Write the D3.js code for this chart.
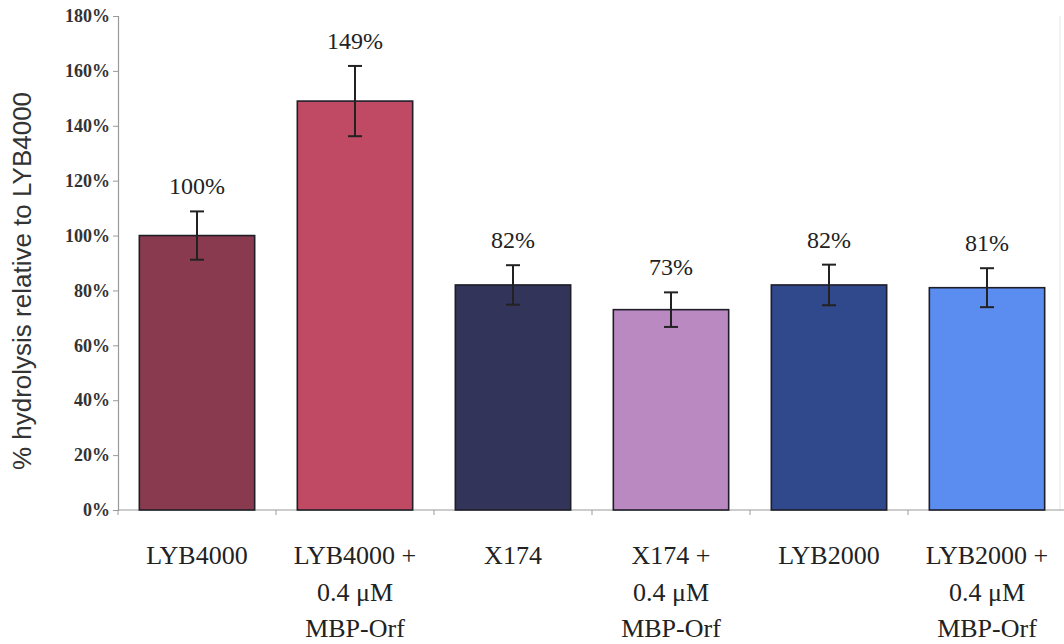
<!DOCTYPE html>
<html>
<head>
<meta charset="utf-8">
<script src="https://cdn.jsdelivr.net/npm/d3@7"></script>
<style>
  html, body { margin: 0; padding: 0; background: #fff; }
  svg { display: block; }
</style>
</head>
<body>
<script>
// ---- data ----
const categories = ["LYB4000", "LYB4000 + 0.4 μM MBP-Orf", "X174", "X174 + 0.4 μM MBP-Orf", "LYB2000", "LYB2000 + 0.4 μM MBP-Orf"];
const categoryLines = [
  ["LYB4000"],
  ["LYB4000 +", "0.4 μM", "MBP-Orf"],
  ["X174"],
  ["X174 +", "0.4 μM", "MBP-Orf"],
  ["LYB2000"],
  ["LYB2000 +", "0.4 μM", "MBP-Orf"]
];
const values = [1.00, 1.49, 0.82, 0.73, 0.82, 0.81];
const errors = [0.088, 0.128, 0.072, 0.063, 0.074, 0.071];
const valueLabels = ["100%", "149%", "82%", "73%", "82%", "81%"];
const barColors = ["#8a3a4e", "#c04a63", "#33345a", "#bb89c2", "#30488c", "#5b8df0"];
const yTicks = [0, 0.2, 0.4, 0.6, 0.8, 1.0, 1.2, 1.4, 1.6, 1.8];
const yTitle = "% hydrolysis relative to LYB4000";

// ---- layout ----
const W = 1064, H = 644;
const svg = d3.select("body").append("svg").attr("width", W).attr("height", H);

const x = d3.scaleBand().domain(categories).range([118, 1066]).paddingInner(0.27).paddingOuter(0.135);
const y = d3.scaleLinear().domain([0, 1.8]).range([510, 16]);

// faint right border
svg.append("line").attr("x1", 1060).attr("x2", 1060).attr("y1", 16).attr("y2", 510)
  .attr("stroke", "#e6e6e6").attr("stroke-width", 1);

// y axis
const yAxis = svg.append("g").attr("transform", "translate(118,0)")
  .call(d3.axisLeft(y).tickValues(yTicks).tickFormat(d3.format(".0%")).tickSize(5).tickPadding(3));
yAxis.select(".domain").attr("stroke", "#999").attr("stroke-width", 1.2);
yAxis.selectAll(".tick line").attr("stroke", "#999");
yAxis.selectAll(".tick text")
  .attr("font-family", "'Liberation Serif', 'Times New Roman', serif")
  .attr("font-size", 18).attr("font-weight", "bold").attr("fill", "#333");

// x axis (ticks at category boundaries)
const boundaries = [118].concat(categories.map(c => x(c) + x.bandwidth() + x.step() * x.paddingInner() / 2));
svg.append("line").attr("x1", 118).attr("x2", 1066).attr("y1", y(0)).attr("y2", y(0))
  .attr("stroke", "#999").attr("stroke-width", 1.2);
svg.append("g").selectAll("line").data(boundaries).join("line")
  .attr("x1", d => d).attr("x2", d => d)
  .attr("y1", y(0)).attr("y2", y(0) + 5)
  .attr("stroke", "#999");

// bars
svg.append("g").selectAll("rect").data(values).join("rect")
  .attr("x", (d, i) => x(categories[i]))
  .attr("y", d => y(d))
  .attr("width", x.bandwidth())
  .attr("height", d => y(0) - y(d))
  .attr("fill", (d, i) => barColors[i])
  .attr("stroke", "#1e1e28").attr("stroke-width", 1.6);

// error bars
const eg = svg.append("g").attr("stroke", "#222").attr("stroke-width", 2);
values.forEach((v, i) => {
  const cx = x(categories[i]) + x.bandwidth() / 2;
  const t = y(v + errors[i]), b = y(v - errors[i]);
  eg.append("line").attr("x1", cx).attr("x2", cx).attr("y1", t).attr("y2", b);
  eg.append("line").attr("x1", cx - 7).attr("x2", cx + 7).attr("y1", t).attr("y2", t);
  eg.append("line").attr("x1", cx - 7).attr("x2", cx + 7).attr("y1", b).attr("y2", b);
});

// value labels
svg.append("g").selectAll("text").data(values).join("text")
  .attr("x", (d, i) => x(categories[i]) + x.bandwidth() / 2)
  .attr("y", (d, i) => y(d + errors[i]) - 17)
  .attr("text-anchor", "middle")
  .attr("font-family", "'Liberation Serif', 'Times New Roman', serif")
  .attr("font-size", 24).attr("fill", "#222")
  .text((d, i) => valueLabels[i]);

// x category labels
const xl = svg.append("g").selectAll("text").data(categories).join("text")
  .attr("text-anchor", "middle")
  .attr("font-family", "'Liberation Serif', 'Times New Roman', serif")
  .attr("font-size", 26).attr("fill", "#222");
xl.each(function (c, i) {
  const cx = x(c) + x.bandwidth() / 2;
  d3.select(this).selectAll("tspan").data(categoryLines[i]).join("tspan")
    .attr("x", cx)
    .attr("y", (l, j) => 564 + j * 36.5)
    .text(l => l);
});

// y title
svg.append("text")
  .attr("transform", "translate(31,281) rotate(-90)")
  .attr("text-anchor", "middle")
  .attr("font-family", "'Liberation Sans', Arial, sans-serif")
  .attr("font-size", 26).attr("fill", "#333")
  .text(yTitle);
</script>
</body>
</html>
